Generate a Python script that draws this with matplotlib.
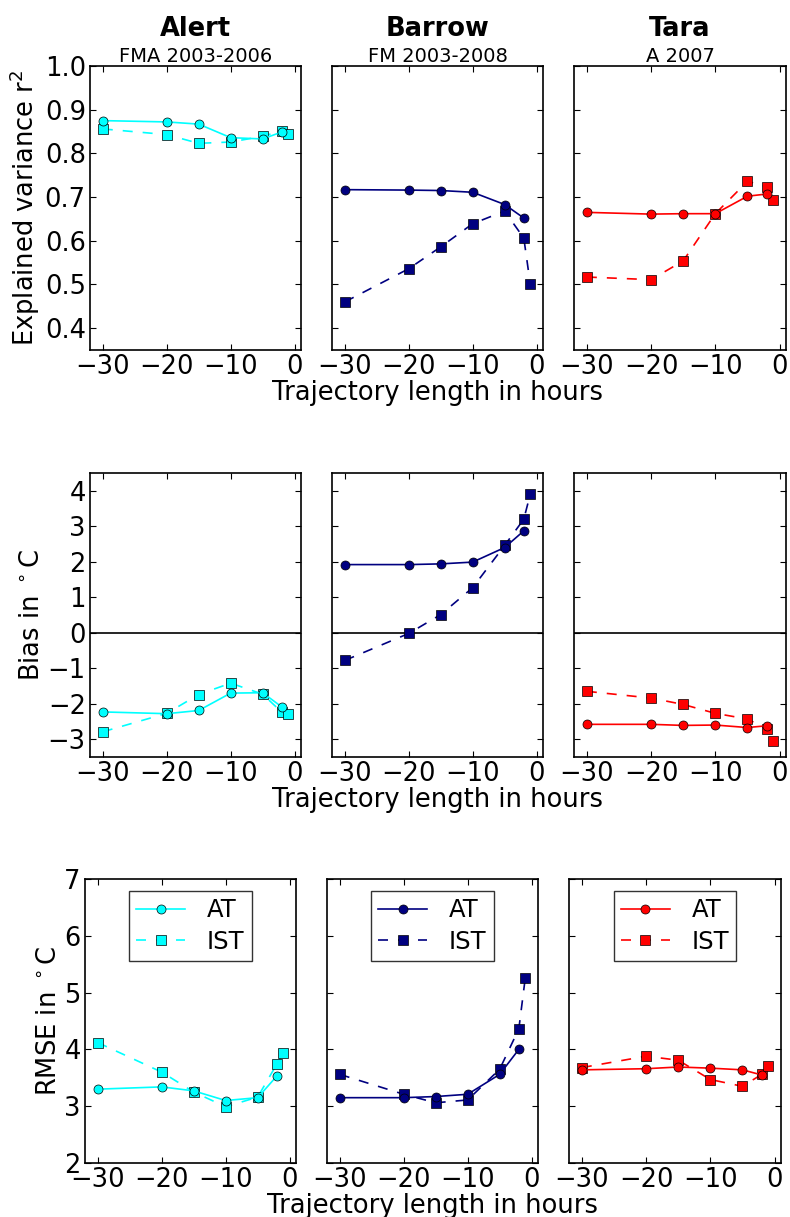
import matplotlib
matplotlib.use("Agg")
from matplotlib import pyplot as plt

# 全局样式：接近旧版matplotlib的样子
plt.rcParams['font.family'] = ['DejaVu Sans']
plt.rcParams['xtick.direction'] = 'in'
plt.rcParams['ytick.direction'] = 'in'
plt.rcParams['xtick.top'] = True
plt.rcParams['ytick.right'] = True
plt.rcParams['xtick.major.size'] = 4
plt.rcParams['ytick.major.size'] = 4
plt.rcParams['lines.dashed_pattern'] = [6, 6]
plt.rcParams['mathtext.default'] = 'regular'

# 数据
stations = ["Alert", "Barrow", "Tara"]
periods = ["FMA 2003-2006", "FM 2003-2008", "A 2007"]
colors = ["#00FFFF", "#000080", "#FF0000"]

hours_at = [-30, -20, -15, -10, -5, -2]
hours_ist = [-30, -20, -15, -10, -5, -2, -1]

# 解释方差 r^2
r2_at = [
    [0.875, 0.872, 0.867, 0.836, 0.833, 0.849],
    [0.717, 0.716, 0.715, 0.711, 0.683, 0.652],
    [0.665, 0.661, 0.662, 0.662, 0.702, 0.707],
]
r2_ist = [
    [0.856, 0.843, 0.823, 0.826, 0.839, 0.852, 0.845],
    [0.460, 0.536, 0.586, 0.639, 0.668, 0.606, 0.502],
    [0.517, 0.511, 0.554, 0.662, 0.736, 0.724, 0.694],
]

# 偏差
bias_at = [
    [-2.23, -2.28, -2.19, -1.70, -1.69, -2.09],
    [1.92, 1.92, 1.94, 1.99, 2.40, 2.87],
    [-2.58, -2.58, -2.61, -2.60, -2.67, -2.62],
]
bias_ist = [
    [-2.79, -2.27, -1.74, -1.42, -1.73, -2.24, -2.28],
    [-0.78, -0.02, 0.51, 1.27, 2.46, 3.20, 3.90],
    [-1.65, -1.84, -2.02, -2.27, -2.43, -2.71, -3.04],
]

# 均方根误差
rmse_at = [
    [3.30, 3.34, 3.27, 3.10, 3.15, 3.53],
    [3.15, 3.15, 3.17, 3.21, 3.56, 4.00],
    [3.64, 3.66, 3.69, 3.67, 3.64, 3.55],
]
rmse_ist = [
    [4.12, 3.60, 3.25, 2.99, 3.16, 3.74, 3.94],
    [3.56, 3.21, 3.06, 3.11, 3.65, 4.36, 5.25],
    [3.68, 3.88, 3.81, 3.47, 3.35, 3.56, 3.71],
]

W, H = 790.0, 1217.0
fig = plt.figure(figsize=(W / 100, H / 100), dpi=100)
fig.patch.set_facecolor('white')

row_px = [(66, 350), (473, 757), (879, 1163)]
col_px = [
    [(90, 301), (332, 543), (574, 786)],
    [(90, 301), (332, 543), (574, 786)],
    [(85, 296), (327, 538), (569, 781)],
]
rows = [(r2_at, r2_ist), (bias_at, bias_ist), (rmse_at, rmse_ist)]
ylims = [(0.35, 1.0), (-3.5, 4.5), (2, 7)]
yticks = [[0.4, 0.5, 0.6, 0.7, 0.8, 0.9, 1.0], range(-3, 5), range(2, 8)]
ylabels = [r"Explained variance r$^2$", r"Bias in $^\circ$C", r"RMSE in $^\circ$C"]

fs = 18.5
for r in range(3):
    top, bot = row_px[r]
    at_data, ist_data = rows[r]
    for c in range(3):
        left, right = col_px[r][c]
        ax = fig.add_axes([left / W, 1 - bot / H, (right - left) / W, (bot - top) / H])
        if r == 1:
            ax.axhline(0, color='black', lw=1.2, zorder=1)
        ax.plot(hours_at, at_data[c], '-', color=colors[c], marker='o', ms=6.5,
                mec='black', mew=0.5, lw=1.2, label='AT', zorder=3)
        ax.plot(hours_ist, ist_data[c], '--', color=colors[c], marker='s', ms=6.5,
                mec='black', mew=0.5, lw=1.2, label='IST', zorder=2)
        ax.set_xlim(-32, 1)
        ax.set_ylim(*ylims[r])
        ax.set_xticks([-30, -20, -10, 0])
        ax.set_yticks(list(yticks[r]))
        ax.tick_params(labelsize=fs, width=0.8, pad=3)
        for s in ax.spines.values():
            s.set_linewidth(1.2)
        if c == 0:
            ax.set_ylabel(ylabels[r], fontsize=fs, labelpad=2)
        else:
            ax.set_yticklabels([])
        if c == 1:
            ax.set_xlabel("Trajectory length in hours", fontsize=fs, labelpad=0)
        if r == 0:
            ax.set_title(periods[c], fontsize=14, pad=3)
            ax.text(0.5, 1.105, stations[c], transform=ax.transAxes, ha='center',
                    va='baseline', fontsize=18.5, fontweight='bold')
        if r == 2:
            leg = ax.legend(loc='upper center', numpoints=1, fontsize=17.5,
                            fancybox=False, borderaxespad=0.5, handletextpad=0.9,
                            labelspacing=0.3, borderpad=0.3, handlelength=2.0)
            leg.get_frame().set_edgecolor('black')
            leg.get_frame().set_linewidth(1.0)

fig.savefig("out.png", dpi=100, facecolor='white')
